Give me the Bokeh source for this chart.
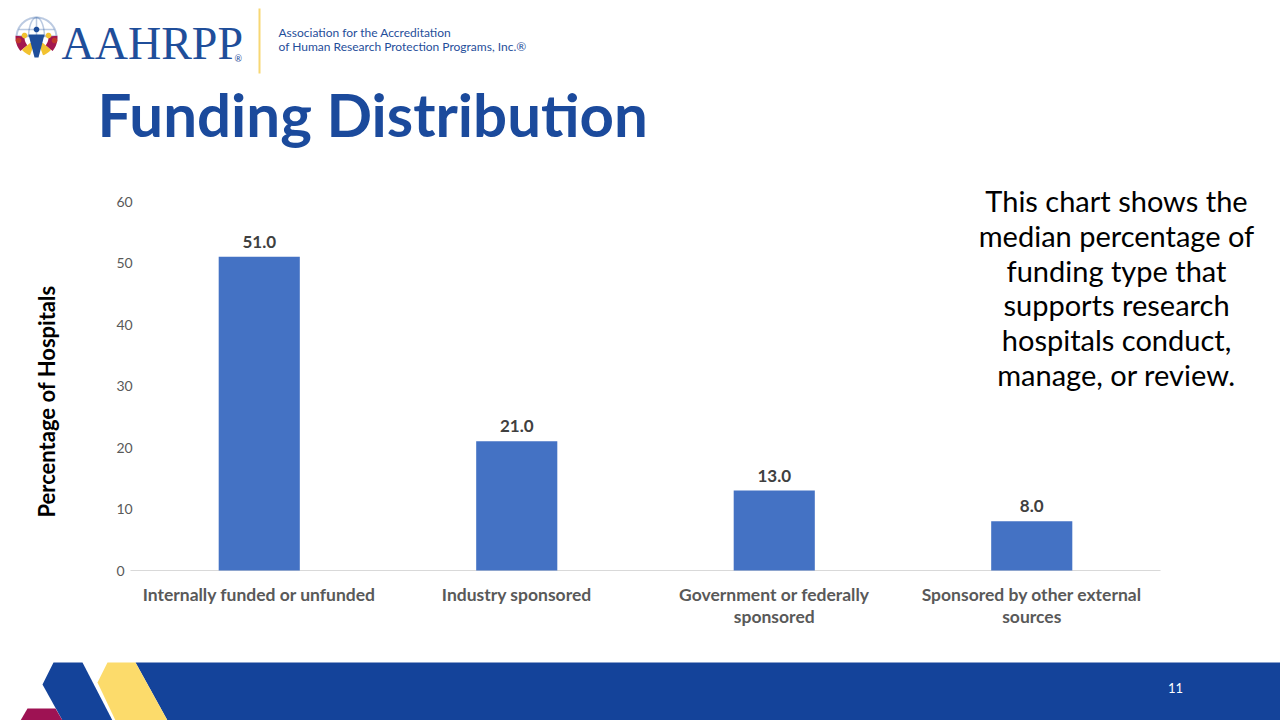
import numpy as np
from bokeh.plotting import figure
from bokeh.layouts import column
from bokeh.models import (ColumnDataSource, Range1d, LabelSet, Label,
                          PolyAnnotation, FixedTicker, LinearScale, LinearAxis)
from bokeh.core.properties import value
from bokeh.embed import file_html
from bokeh.resources import INLINE

# ---------------- data ----------------
categories = ["Internally funded or unfunded", "Industry sponsored",
              "Government or federally sponsored", "Sponsored by other external sources"]
category_labels = ["Internally funded or unfunded", "Industry sponsored",
                   "Government or federally\nsponsored", "Sponsored by other external\nsources"]
values = [51.0, 21.0, 13.0, 8.0]
y_ticks = [0, 10, 20, 30, 40, 50, 60]

title_text = "Funding Distribution"
y_title = "Percentage of Hospitals"
note_lines = ["This chart shows the", "median percentage of", "funding type that",
              "supports research", "hospitals conduct,", "manage, or review."]
page_number = "11"

# ---------------- layout (page pixels) ----------------
W = 1280
HEAD_H, CHART_H, FOOT_H = 170, 480, 70
FL, FR, FT, FB = 130, 1160, 201, 570      # axis box of the chart (page px)
FRAME_TOP, FRAME_BOT = 172, 582           # chart drawing frame (page px)
RB = 0                                    # chart right border

BAR = "#4472C4"
NAVY = "#1B4A9C"
LOGO = "#1F4E9A"
FONT = "Lato"


def lab(fig, text, x, y, size, color, style="normal", font=FONT, align="left",
        baseline="middle", angle=0.0, xr="default", yr="default"):
    fig.add_layout(Label(x=x, y=y, x_range_name=xr, y_range_name=yr, text=text,
                         text_font=font, text_font_size=f"{size}px", text_color=color,
                         text_font_style=style, text_align=align,
                         text_baseline=baseline, angle=angle))


def poly(fig, xs, ys, color, alpha=1.0, line=None, lw=1, xr="default", yr="default"):
    fig.add_layout(PolyAnnotation(xs=list(xs), ys=list(ys), fill_color=color,
                                  fill_alpha=alpha, line_color=line, line_width=lw,
                                  x_range_name=xr, y_range_name=yr))


def canvas_fig(h, y0):
    f = figure(width=W, height=h, x_range=Range1d(0, W), y_range=Range1d(y0 + h, y0),
               x_axis_type=None, y_axis_type=None, min_border=0,
               output_backend="svg", toolbar_location=None)
    f.outline_line_color = None
    f.grid.visible = False
    f.background_fill_color = "white"
    f.border_fill_color = "white"
    return f


# ---------------- header ----------------
head = canvas_fig(HEAD_H, 0)
cx, cy, r = 36, 37, 20
ang = np.linspace(0, 2 * np.pi, 60)
up = np.linspace(np.pi * 0.02, np.pi * 0.98, 30)
poly(head, cx + r * np.cos(up), cy - r * np.sin(up), "white", 0.0, line=LOGO, lw=2)
poly(head, cx + 8 * np.cos(up), cy - r * np.sin(up), "white", 0.0, line=LOGO, lw=1.5)
poly(head, [cx - r + 2, cx + r - 2], [cy - 8, cy - 8], "white", 0.0, line=LOGO, lw=1.5)
poly(head, [cx, cx], [cy - r, cy], "white", 0.0, line=LOGO, lw=1.5)


def wedge(a0, a1, r0, r1, color):
    a = np.linspace(a0, a1, 12)
    xs = np.concatenate([cx + r1 * np.cos(a), cx + r0 * np.cos(a[::-1])])
    ys = np.concatenate([cy + r1 * np.sin(a), cy + r0 * np.sin(a[::-1])])
    poly(head, xs, ys, color)


wedge(np.radians(140), np.radians(185), 12, 21, "#A3174F")
wedge(np.radians(110), np.radians(140), 8, 19, "#F2C230")
wedge(np.radians(40), np.radians(70), 8, 19, "#F2C230")
wedge(np.radians(-5), np.radians(40), 12, 21, "#A3174F")
poly(head, [cx - 8, cx + 8, cx + 2, cx - 2], [cy - 3, cy - 3, cy + 20, cy + 20], LOGO)
for hx, hy, hc in [(cx, cy - 8, LOGO), (cx - 12, cy - 2, "#F2C230"),
                   (cx + 12, cy - 2, "#F2C230"), (cx - 18, cy + 3, "#C0392B"),
                   (cx + 18, cy + 3, "#C0392B")]:
    poly(head, hx + 2.8 * np.cos(ang), hy + 2.8 * np.sin(ang), hc)

lab(head, "AAHRPP", 61, 43, 46, LOGO, font="Liberation Serif")
lab(head, "®", 234, 58, 9, LOGO)
poly(head, [258, 260, 260, 258], [8, 8, 73, 73], "#F7D774")
lab(head, "Association for the Accreditation", 278, 32, 12, LOGO)
lab(head, "of Human Research Protection Programs, Inc.®", 278, 46, 12, LOGO)
lab(head, title_text, 97, 113, 60, NAVY, style="bold")

# ---------------- chart ----------------
px_per_x = (FR - FL) / len(categories)
px_per_y = (FB - FT) / 60.0
xpos = [i + 0.5 for i in range(len(categories))]
x0 = -FL / px_per_x

p = figure(width=W, height=CHART_H, y_axis_location=None,
           x_range=Range1d(x0, x0 + (W - RB) / px_per_x),
           y_range=Range1d(-(FRAME_BOT - FB) / px_per_y, (FB - FRAME_TOP) / px_per_y),
           output_backend="svg", toolbar_location=None,
           min_border_left=0, min_border_right=RB,
           min_border_top=FRAME_TOP - HEAD_H,
           min_border_bottom=HEAD_H + CHART_H - FRAME_BOT)
p.extra_x_ranges = {"px": Range1d(0, W - RB)}
p.extra_x_scales = {"px": LinearScale()}
p.extra_y_ranges = {"py": Range1d(FRAME_BOT, FRAME_TOP)}
p.extra_y_scales = {"py": LinearScale()}
p.outline_line_color = None
p.background_fill_color = "white"
p.border_fill_color = "white"
p.xgrid.visible = False
p.ygrid.visible = False

# category baseline (axis line limited to the category span)
p.segment(x0=[0], y0=[0], x1=[len(categories)], y1=[0], line_color="#D9D9D9", line_width=1)

src = ColumnDataSource(dict(x=xpos, cat=categories, val=values,
                            txt=[f"{v:.1f}" for v in values]))
p.vbar(x="x", top="val", width=0.315, source=src, fill_color=BAR, line_color=None)
p.add_layout(LabelSet(x="x", y="val", text="txt", source=src, y_offset=15,
                      text_align="center", text_baseline="middle",
                      text_font=value(FONT), text_font_style="bold",
                      text_font_size="17px", text_color="#404040"))

xa = p.xaxis[0]
xa.ticker = FixedTicker(ticks=xpos)
xa.axis_line_color = None
xa.major_tick_line_color = None
xa.minor_tick_line_color = None
xa.major_tick_out = 0
xa.minor_tick_out = 0
xa.major_label_standoff = 1
xa.major_label_text_font = FONT
xa.major_label_text_font_style = "bold"
xa.major_label_text_font_size = "17.5px"
xa.major_label_text_line_height = 1.05
xa.major_label_text_color = "#595959"
xa.major_label_overrides = dict(zip(xpos, category_labels))

# value axis, anchored at the category origin
ya = LinearAxis(ticker=FixedTicker(ticks=y_ticks), fixed_location=0)
ya.axis_line_color = None
ya.major_tick_line_color = None
ya.minor_tick_line_color = None
ya.major_tick_out = 0
ya.minor_tick_out = 0
ya.major_label_standoff = -14
ya.major_label_text_align = "right"
ya.major_label_text_font = FONT
ya.major_label_text_font_size = "14px"
ya.major_label_text_color = "#595959"
p.add_layout(ya, "right")

lab(p, y_title, 46, 401, 22, "black", style="bold", align="center",
    angle=np.pi / 2, xr="px", yr="py")

for i, t in enumerate(note_lines):
    lab(p, t, 1116, 200 + i * 34.8, 29, "black", align="center", xr="px", yr="py")

# ---------------- footer ----------------
foot = canvas_fig(FOOT_H, HEAD_H + CHART_H)
poly(foot, [135, 1280, 1280, 167], [662, 662, 720, 720], "#14439A")
poly(foot, [107, 135, 167, 115, 97], [662, 662, 720, 720, 682], "#FCDB6B")
poly(foot, [53, 82, 112, 62, 42], [662, 662, 720, 720, 684], "#14439A")
poly(foot, [27, 55, 62, 20], [708, 708, 720, 720], "#9E1253")
lab(foot, page_number, 1175, 687, 13, "white", align="center")

page = column(head, p, foot, spacing=0)
open("out.html", "w").write(file_html(page, INLINE))
